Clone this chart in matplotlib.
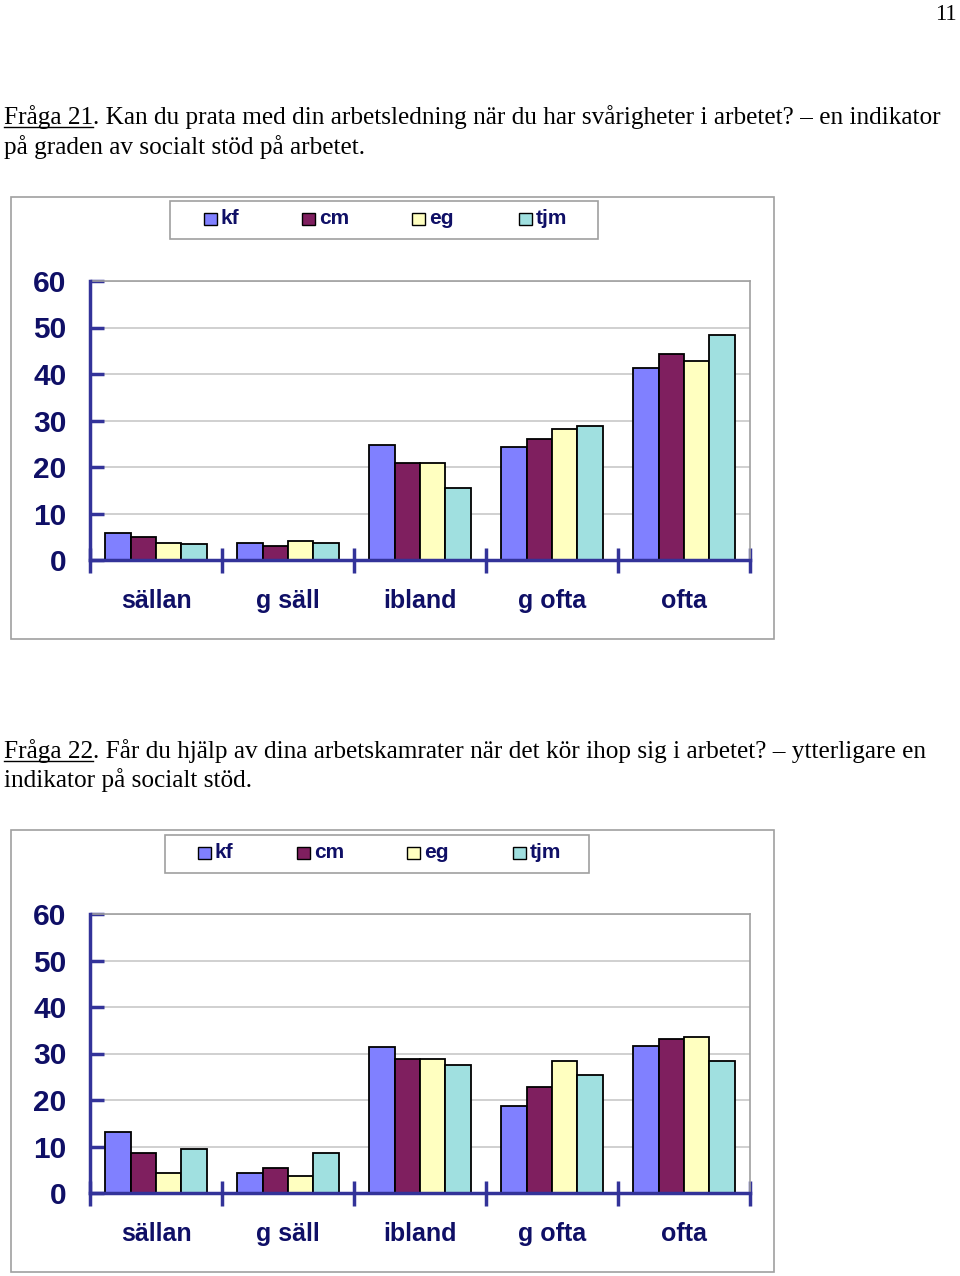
import matplotlib
matplotlib.use('Agg')
import matplotlib.pyplot as plt
from matplotlib.patches import Rectangle
from matplotlib.lines import Line2D
import numpy as np

# ---------------- data ----------------
categories = ['sällan', 'g säll', 'ibland', 'g ofta', 'ofta']
series_names = ['kf', 'cm', 'eg', 'tjm']

q21_kf = [5.7, 3.7, 24.8, 24.4, 41.3]
q21_cm = [5.0, 3.0, 20.9, 26.0, 44.4]
q21_eg = [3.7, 4.1, 20.9, 28.1, 42.7]
q21_tjm = [3.4, 3.7, 15.5, 28.8, 48.4]

q22_kf = [13.1, 4.2, 31.4, 18.8, 31.7]
q22_cm = [8.6, 5.3, 28.9, 22.9, 33.1]
q22_eg = [4.2, 3.6, 28.9, 28.3, 33.5]
q22_tjm = [9.4, 8.6, 27.6, 25.3, 28.3]

yticks = [0, 10, 20, 30, 40, 50, 60]
page_number = '11'
q21_label = 'Fråga 21'
q21_rest1 = '. Kan du prata med din arbetsledning när du har svårigheter i arbetet? – en indikator'
q21_line2 = 'på graden av socialt stöd på arbetet.'
q22_label = 'Fråga 22'
q22_rest1 = '. Får du hjälp av dina arbetskamrater när det kör ihop sig i arbetet? – ytterligare en'
q22_line2 = 'indikator på socialt stöd.'

colors = ['#8080FF', '#7F1F5F', '#FFFFC0', '#A0E0E0']
NAVY = '#333399'
TXT = '#0F0F66'
GRID = '#C8C8C8'
BOX = '#A0A0A0'

W, H = 960, 1276
fig = plt.figure(figsize=(W / 100, H / 100), dpi=100)
renderer = fig.canvas.get_renderer()


def fx(px):
    return px / W


def fy(py):
    return 1 - py / H


SERIF = 'Liberation Serif'
SANS = 'Liberation Sans'
BODY_FS = 18.2


def para(x, base1, base2, label, rest, line2):
    t = fig.text(fx(x), fy(base1), label, fontfamily=SERIF, fontsize=BODY_FS,
                 va='baseline', ha='left', color='black')
    bb = t.get_window_extent(renderer)
    fig.add_artist(Line2D([bb.x0 / W, bb.x1 / W], [fy(base1 + 3)] * 2,
                          color='black', lw=1.0))
    fig.text(bb.x1 / W, fy(base1), rest, fontfamily=SERIF, fontsize=BODY_FS,
             va='baseline', ha='left', color='black')
    fig.text(fx(x), fy(base2), line2, fontfamily=SERIF, fontsize=BODY_FS,
             va='baseline', ha='left', color='black')


def chart(box, legbox, leg_x, leg_y, plot, data):
    # outer chart box
    x0, y0, x1, y1 = box
    fig.add_artist(Rectangle((fx(x0), fy(y1)), fx(x1 - x0), (y1 - y0) / H,
                             transform=fig.transFigure, fill=False,
                             edgecolor=BOX, lw=1.2))
    # legend box
    lx0, ly0, lx1, ly1 = legbox
    fig.add_artist(Rectangle((fx(lx0), fy(ly1)), fx(lx1 - lx0), (ly1 - ly0) / H,
                             transform=fig.transFigure, fill=False,
                             edgecolor=BOX, lw=1.2))
    for xs, name, c in zip(leg_x, series_names, colors):
        fig.add_artist(Rectangle((fx(xs), fy(leg_y + 6)), fx(13), 12 / H,
                                 transform=fig.transFigure, facecolor=c,
                                 edgecolor='black', lw=1.0))
        fig.text(fx(xs + 17), fy(leg_y), name, fontfamily=SANS, fontweight='bold',
                 fontsize=15, color=TXT, va='center', ha='left')

    # plot area
    pl, pt, pr, pb = plot
    ax = fig.add_axes([fx(pl), fy(pb), fx(pr - pl), (pb - pt) / H])
    n = len(series_names)
    x = np.arange(len(categories))
    bw = 0.192
    for i, (vals, c) in enumerate(zip(data, colors)):
        ax.bar(x + (i - (n - 1) / 2) * bw, vals, width=bw, color=c,
               edgecolor='black', linewidth=1.3, zorder=3)
    ax.set_xlim(-0.5, len(categories) - 0.5)
    ax.set_ylim(0, 60)
    ax.set_yticks(yticks)
    ax.set_yticklabels([str(v) for v in yticks])
    ax.yaxis.grid(True, color=GRID, lw=1.2, zorder=0)
    ax.set_axisbelow(True)
    ax.tick_params(axis='y', direction='in', length=10, width=2.5, color=NAVY,
                   pad=17, labelsize=21.5, labelcolor=TXT)
    for lab in ax.get_yticklabels():
        lab.set_fontweight('bold')
        lab.set_fontfamily(SANS)
    # category boundaries as major ticks, labels as minor ticks
    ax.set_xticks(np.arange(-0.5, len(categories), 1.0))
    ax.set_xticklabels([])
    ax.set_xticks(x, minor=True)
    ax.set_xticklabels(categories, minor=True)
    ax.tick_params(axis='x', which='major', direction='inout', length=18,
                   width=2.5, color=NAVY)
    ax.tick_params(axis='x', which='minor', length=0, pad=21, labelsize=18,
                   labelcolor=TXT)
    for lab in ax.get_xticklabels(minor=True):
        lab.set_fontweight('bold')
        lab.set_fontfamily(SANS)
    for s in ('left', 'bottom'):
        ax.spines[s].set_color(NAVY)
        ax.spines[s].set_linewidth(2.5)
        ax.spines[s].set_zorder(5)
    for s in ('top', 'right'):
        ax.spines[s].set_color(BOX)
        ax.spines[s].set_linewidth(1.2)
    return ax


# page number
fig.text(fx(957), fy(20), page_number, fontfamily=SERIF, fontsize=16.5,
         ha='right', va='baseline', color='black')

para(4, 124, 154, q21_label, q21_rest1, q21_line2)
chart((11, 197, 774, 639), (170, 201, 598, 239), [204, 302, 412, 519], 219,
      (90, 281, 750, 560), [q21_kf, q21_cm, q21_eg, q21_tjm])

para(4, 758, 787, q22_label, q22_rest1, q22_line2)
chart((11, 830, 774, 1272), (165, 835, 589, 873), [198, 297, 407, 513], 853,
      (90, 914, 750, 1193), [q22_kf, q22_cm, q22_eg, q22_tjm])

fig.savefig('out.png', dpi=100, facecolor='white')
